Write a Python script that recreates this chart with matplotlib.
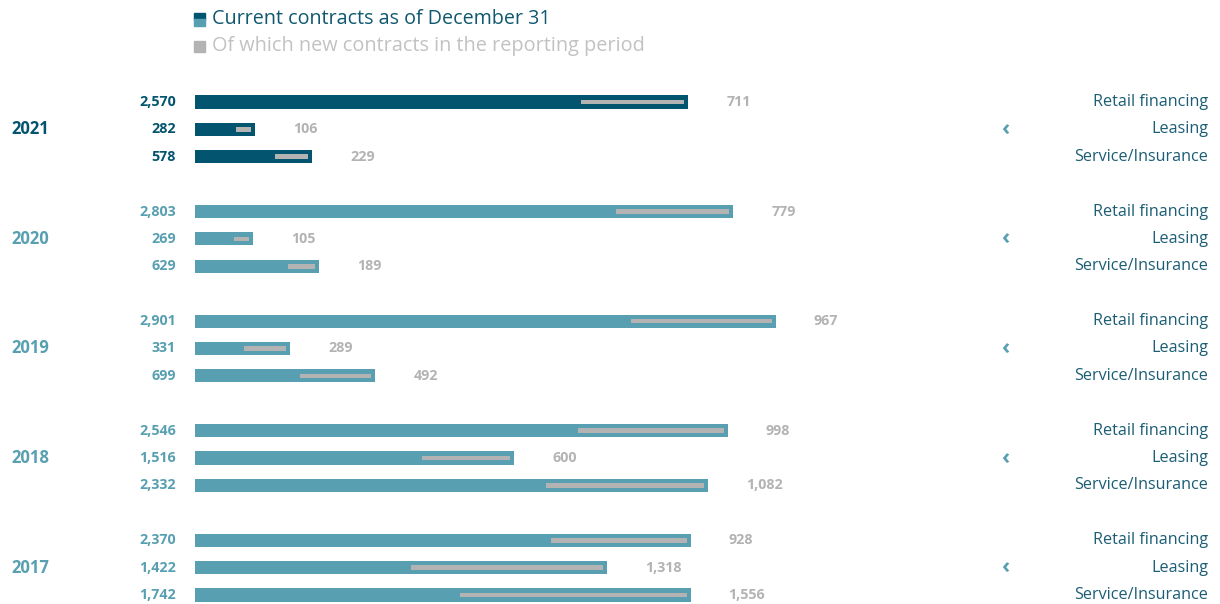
import matplotlib.pyplot as plt
import matplotlib.patches as mpatches
from matplotlib.transforms import blended_transform_factory

plt.rcParams["font.family"] = ["Open Sans", "DejaVu Sans"]

# data
years = ["2021", "2020", "2019", "2018", "2017"]
categories = ["Retail financing", "Leasing", "Service/Insurance"]
current = [
    [2570, 282, 578],
    [2803, 269, 629],
    [2901, 331, 699],
    [2546, 1516, 2332],
    [2370, 1422, 1742],
]
new = [
    [711, 106, 229],
    [779, 105, 189],
    [967, 289, 492],
    [998, 600, 1082],
    [928, 1318, 1556],
]
# lengths of the current-contract bars as they are drawn in the source
# (the source does not draw them to the same scale as the new-contract bars)
current_drawn = [
    [3379, 413, 801],
    [3687, 399, 851],
    [3979, 653, 1235],
    [3649, 2185, 3514],
    [3395, 2824, 3395],
]

DARK = "#03546f"
TEAL = "#58a0b1"
GREY = "#b3b3b3"
CAT = "#1a5d74"
W, H = 1220, 604

fig = plt.figure(figsize=(W / 100, H / 100), dpi=100)
left = 195 / W
ax = fig.add_axes([left, 0, 1 - left, 1])
ax.set_xlim(0, (W - 195) / 0.146)
ax.set_ylim(18.33, -3.724)
ax.axis("off")

tr = blended_transform_factory(fig.transFigure, ax.transData)

for g, year in enumerate(years):
    col = DARK if g == 0 else TEAL
    base = g * 4
    ax.text(11 / W, base + 1, year, transform=tr, ha="left", va="center",
            fontsize=12, fontweight="bold", color=col)
    ax.text(1001 / W, base + 1, "‹", transform=tr, ha="left", va="center",
            fontsize=16, fontweight="bold", color=TEAL)
    for r in range(3):
        y = base + r
        ax.barh(y, current_drawn[g][r], height=0.48, color=col, zorder=2)
        ax.barh(y, new[g][r], left=current_drawn[g][r] - 27 - new[g][r],
                height=0.17, color=GREY, zorder=3)
        ax.text(176 / W, y, f"{current[g][r]:,}", transform=tr, ha="right",
                va="center", fontsize=10.3, fontweight="bold", color=col)
        ax.annotate(f"{new[g][r]:,}", xy=(current_drawn[g][r], y),
                    xytext=(38, 0), textcoords="offset pixels", ha="left",
                    va="center", fontsize=10.3, fontweight="bold", color=GREY)
        ax.text(1208 / W, y, categories[r], transform=tr, ha="right",
                va="center", fontsize=11.6, color=CAT)

# legend
fig.patches.append(mpatches.Rectangle((194 / W, 1 - 19.5 / H), 11 / W, 6.5 / H,
                                      transform=fig.transFigure, color=DARK))
fig.patches.append(mpatches.Rectangle((194 / W, 1 - 26 / H), 11 / W, 6.5 / H,
                                      transform=fig.transFigure, color=TEAL))
fig.patches.append(mpatches.Rectangle((194 / W, 1 - 52 / H), 11 / W, 11 / H,
                                      transform=fig.transFigure, color=GREY))
fig.text(212 / W, 1 - 19 / H, "Current contracts as of December 31",
         ha="left", va="center", fontsize=14.2, color="#0f5870")
fig.text(212 / W, 1 - 46 / H, "Of which new contracts in the reporting period",
         ha="left", va="center", fontsize=14.3, color="#c2c2c2")

fig.savefig("out.png", dpi=100)
